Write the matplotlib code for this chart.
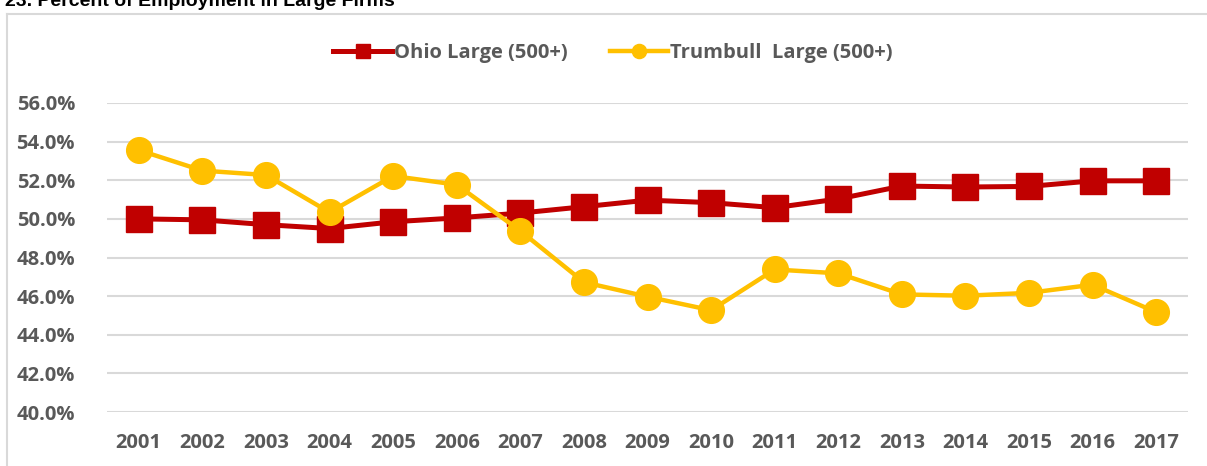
import matplotlib
matplotlib.use("Agg")
import matplotlib.pyplot as plt
from matplotlib.lines import Line2D
from matplotlib.ticker import FuncFormatter

years = ["2001", "2002", "2003", "2004", "2005", "2006", "2007", "2008", "2009",
         "2010", "2011", "2012", "2013", "2014", "2015", "2016", "2017"]
ohio = [50.0, 49.95, 49.7, 49.5, 49.85, 50.05, 50.3, 50.63, 50.97,
        50.84, 50.58, 51.03, 51.7, 51.65, 51.68, 51.97, 51.97]
trumbull = [53.56, 52.5, 52.27, 50.34, 52.22, 51.77, 49.38, 46.72, 45.97,
            45.27, 47.38, 47.18, 46.09, 46.02, 46.17, 46.59, 45.17]
yticks = [40, 42, 44, 46, 48, 50, 52, 54, 56]

W, H = 1207, 466
fig = plt.figure(figsize=(W / 100, H / 100), dpi=100)
ax = fig.add_axes([107 / W, 1 - 412 / H, (1188 - 107) / W, (412 - 103) / H])

FONT = "Open Sans"
x = list(range(len(years)))
ax.plot(x, ohio, color="#C00000", lw=3.6, marker="s", ms=18.5,
        label="Ohio Large (500+)", zorder=3)
ax.plot(x, trumbull, color="#FFC000", lw=3.2, marker="o", ms=18.5,
        label="Trumbull  Large (500+)", zorder=4)

ax.set_xlim(-0.5, len(years) - 0.5)
ax.set_ylim(40, 56)
ax.set_yticks(yticks)
ax.yaxis.set_major_formatter(FuncFormatter(lambda v, p: f"{v:.1f}%"))
ax.set_xticks(x)
ax.set_xticklabels(years)
ax.grid(axis="y", color="#D9D9D9", lw=1.5, zorder=0)
for s in ax.spines.values():
    s.set_visible(False)
ax.tick_params(length=0, labelsize=14.5, labelcolor="#595959")
ax.tick_params(axis="x", pad=15)
ax.tick_params(axis="y", pad=23)
for lab in ax.get_xticklabels() + ax.get_yticklabels():
    lab.set_fontfamily(FONT)
    lab.set_fontweight("bold")

leg = fig.legend(loc="center", bbox_to_anchor=(613 / W, 1 - 53 / H), ncol=2,
                 frameon=False, prop={"family": FONT, "weight": "bold", "size": 14.5},
                 markerscale=0.55, handlelength=2.9, columnspacing=2.1, handletextpad=0.1)
for t in leg.get_texts():
    t.set_color("#595959")

# chart border
fig.add_artist(Line2D([6.5 / W, 6.5 / W], [0, 1 - 14 / H], color="#D9D9D9", lw=1.5))
fig.add_artist(Line2D([6.5 / W, 1], [1 - 14 / H, 1 - 14 / H], color="#D9D9D9", lw=1.5))

fig.text(5 / W, 1 - 6 / H, "23. Percent of Employment in Large Firms", fontsize=14,
         fontweight="bold", family="Liberation Sans", va="baseline", ha="left", color="black")

fig.savefig("out.png", dpi=100)
